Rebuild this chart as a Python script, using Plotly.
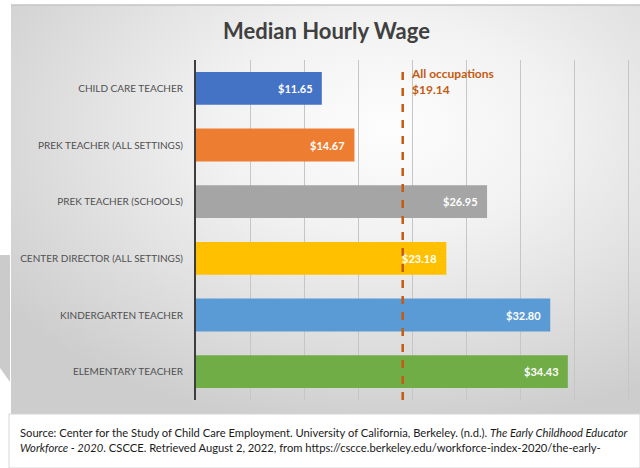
import base64
import plotly.graph_objects as go

# ---- data ----
categories = [
    "CHILD CARE TEACHER",
    "PREK TEACHER (ALL SETTINGS)",
    "PREK TEACHER (SCHOOLS)",
    "CENTER DIRECTOR (ALL SETTINGS)",
    "KINDERGARTEN TEACHER",
    "ELEMENTARY TEACHER",
]
wages = [11.65, 14.67, 26.95, 23.18, 32.80, 34.43]
wage_labels = ["$11.65", "$14.67", "$26.95", "$23.18", "$32.80", "$34.43"]
bar_colors = ["#4472C4", "#ED7D31", "#A5A5A5", "#FFC000", "#5B9BD5", "#70AD47"]
all_occupations = 19.14
all_occ_label = "All occupations<br>$19.14"
title_text = "Median Hourly Wage"
source_text = (
    "Source: Center for the Study of Child Care Employment. University of California, Berkeley. (n.d.). "
    "<i>The Early Childhood Educator</i><br><i>Workforce - 2020</i>. CSCCE. Retrieved August 2, 2022, "
    "from https://cscce.berkeley.edu/workforce-index-2020/the-early-"
)

W, H = 640, 468
FONT = "Lato"

svg = (
    '<svg xmlns="http://www.w3.org/2000/svg" width="629" height="408" viewBox="0 0 629 408" '
    'preserveAspectRatio="none"><defs><radialGradient id="g" cx="0.6" cy="0.3" r="0.75">'
    '<stop offset="0" stop-color="#fdfdfd"/><stop offset="0.35" stop-color="#f2f2f2"/>'
    '<stop offset="1" stop-color="#cdcdcd"/></radialGradient></defs>'
    '<rect width="629" height="408" fill="url(#g)"/></svg>'
)
svg_uri = "data:image/svg+xml;base64," + base64.b64encode(svg.encode()).decode()

fig = go.Figure()
fig.add_trace(go.Bar(
    y=categories, x=wages, orientation="h",
    marker=dict(color=bar_colors, line=dict(width=0)),
    width=0.58, hoverinfo="skip", showlegend=False,
))

# value labels inside bar ends
for cat, v, lab in zip(categories, wages, wage_labels):
    fig.add_annotation(x=v, y=cat, xref="x", yref="y", text="<b>%s</b>" % lab,
                       showarrow=False, xanchor="right", xshift=-7,
                       font=dict(family=FONT, size=11, color="white"))

# all occupations dashed line
fig.add_shape(type="line", xref="x", yref="y domain", x0=all_occupations, x1=all_occupations,
              y0=0, y1=0.97, line=dict(color="#C55A11", width=2.5, dash="8px,8px"), layer="above")
fig.add_annotation(x=all_occupations, y=1.0, xref="x", yref="y domain", text="<b>%s</b>" % all_occ_label,
                   showarrow=False, xanchor="left", yanchor="top", xshift=6, yshift=-4, align="left",
                   font=dict(family=FONT, size=12, color="#C55A11"))

# title
fig.add_annotation(x=326 / W, y=1 - 31 / H, xref="paper", yref="paper", text="<b>%s</b>" % title_text,
                   showarrow=False, xanchor="center", yanchor="middle",
                   font=dict(family=FONT, size=22, color="#404040"))

# source
fig.add_annotation(x=18 / W, y=1 - 440 / H, xref="paper", yref="paper", text=source_text,
                   showarrow=False, xanchor="left", yanchor="middle", align="left",
                   font=dict(family=FONT, size=11.2, color="#1a1a1a"))

# frame decorations
fig.add_shape(type="path", xref="paper", yref="paper",
              path="M 0 %f L %f %f L %f %f L 0 %f Z" % (1 - 255 / H, 10 / W, 1 - 255 / H, 10 / W, 1 - 382 / H, 1 - 368 / H),
              fillcolor="#cbcbcb", line=dict(width=0), layer="below")
fig.add_shape(type="rect", xref="paper", yref="paper", x0=9 / W, x1=1.0, y0=0, y1=1 - 414 / H,
              fillcolor="white", line=dict(color="#d6d6d6", width=1), layer="below")
fig.add_shape(type="line", xref="paper", yref="paper", x0=11 / W, x1=1.0, y0=1 - 5 / H, y1=1 - 5 / H,
              line=dict(color="#c4c4c4", width=1.5), layer="below")

fig.add_layout_image(dict(source=svg_uri, xref="paper", yref="paper", x=11 / W, y=1 - 5 / H,
                          sizex=629 / W, sizey=409 / H, sizing="stretch", xanchor="left",
                          yanchor="top", layer="below"))

fig.update_layout(
    template="none",
    width=W, height=H,
    margin=dict(l=0, r=0, t=0, b=0, pad=0),
    paper_bgcolor="white", plot_bgcolor="rgba(0,0,0,0)",
    bargap=0.42,
    xaxis=dict(range=[0, 40.3], domain=[196 / W, (196 + 40.3 * 10.8) / W],
               showticklabels=False, ticks="", dtick=5, tick0=0, automargin=False,
               showgrid=True, gridcolor="#c6c6c6", gridwidth=1, zeroline=False, showline=False,
               fixedrange=True),
    yaxis=dict(domain=[1 - 400 / H, 1 - 60 / H], autorange="reversed", automargin=False,
               showline=True, linecolor="#3d3d3d", linewidth=2, ticks="",
               ticklabelstandoff=9, showgrid=False,
               tickfont=dict(family=FONT, size=10, color="#505050"), fixedrange=True),
)

fig.write_html("out.html", config={"displayModeBar": False},
               post_script="document.body.style.margin='0';document.body.style.overflow='hidden';")
